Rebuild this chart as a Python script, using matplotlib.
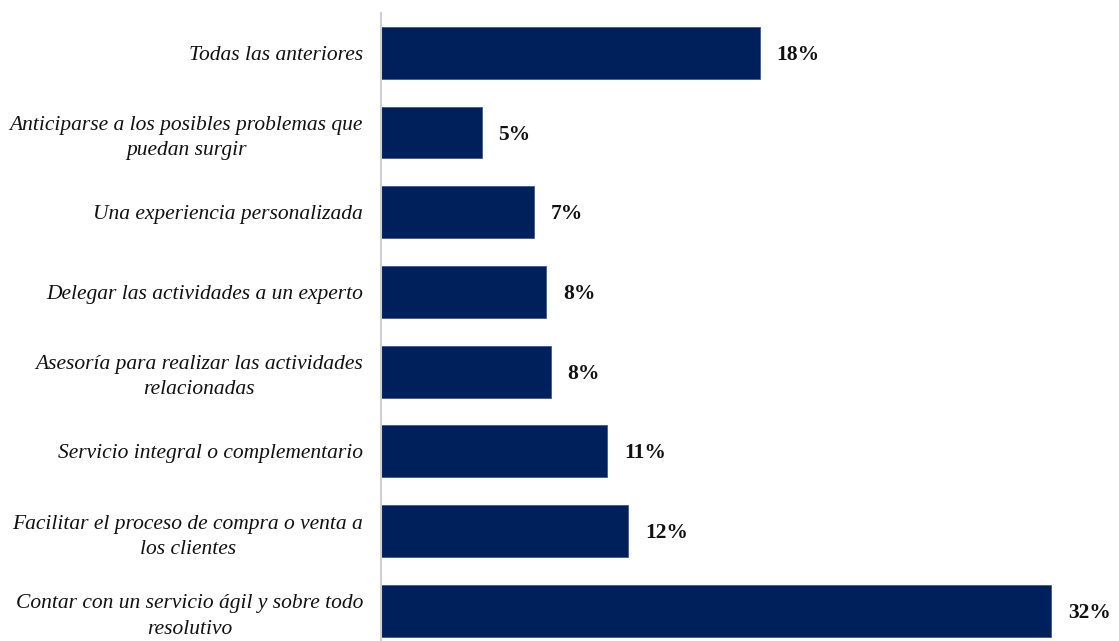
import matplotlib.pyplot as plt

categorias = [
    "Todas las anteriores",
    "Anticiparse a los posibles problemas que\npuedan surgir",
    "Una experiencia personalizada",
    "Delegar las actividades a un experto",
    "Asesoría para realizar las actividades\nrelacionadas",
    "Servicio integral o complementario",
    "Facilitar el proceso de compra o venta a\nlos clientes",
    "Contar con un servicio ágil y sobre todo\nresolutivo",
]
porcentajes = [18.1, 4.8, 7.3, 7.9, 8.1, 10.8, 11.8, 32.0]

fig = plt.figure(figsize=(11.19, 6.41), dpi=100)
ax = fig.add_axes([381 / 1119, 0, 1 - 381 / 1119, 628 / 641])

y = list(range(len(categorias)))
ax.barh(y, porcentajes, height=0.65, color="#00205b", edgecolor="#3a5a9a", linewidth=0.6)

for yi, v in zip(y, porcentajes):
    ax.annotate(f"{v:.0f}%", (v, yi), xytext=(12, -1.5), textcoords="offset points",
                va="center", ha="left", fontsize=15.5, fontweight="bold",
                family="Liberation Serif", color="#111111")

ax.set_xlim(0, 35.24)
ax.set_ylim(7.38, -0.5)
ax.set_yticks(y)
ax.set_yticklabels(categorias, fontsize=15.5, family="Liberation Serif",
                   style="italic", multialignment="center", color="#111111",
                   linespacing=1.45)
ax.tick_params(axis="y", length=0, pad=13)
ax.set_xticks([])

for s in ["top", "right", "bottom"]:
    ax.spines[s].set_visible(False)
ax.spines["left"].set_color("#d0d0d0")
ax.spines["left"].set_linewidth(1.5)

fig.savefig("out.png", dpi=100)
